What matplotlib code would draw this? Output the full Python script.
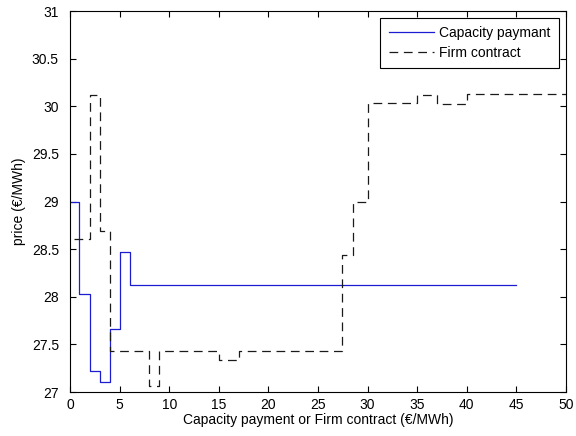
import numpy as np
import matplotlib
matplotlib.use('Agg')
import matplotlib.pyplot as plt

plt.rcParams['font.family'] = ['Liberation Sans', 'DejaVu Sans']
plt.rcParams['font.size'] = 10

# step breakpoints (x) and price levels (y), last level repeated for steps-post
cap_x = [0, 0.9, 2, 3, 4, 5, 6, 45]
cap_y = [29.0, 28.03, 27.22, 27.10, 27.66, 28.47, 28.12, 28.12]

firm_x = [0.4, 2, 3, 4, 8, 9, 15, 17, 27.4, 28.5, 30, 35, 37, 40, 50]
firm_y = [28.61, 30.12, 28.69, 27.43, 27.06, 27.43, 27.34, 27.43, 28.44, 29.0,
          30.03, 30.12, 30.02, 30.13, 30.13]

x_ticks = np.arange(0, 51, 5)
y_ticks = np.arange(27, 31.01, 0.5)

fig = plt.figure(figsize=(5.76, 4.36), dpi=100)
ax = fig.add_axes([70 / 576, 44 / 436, 496 / 576, 381 / 436])

ax.step(cap_x, cap_y, where='post', color='#1c1cd0', linewidth=0.9,
        label='Capacity paymant')
ax.step(firm_x, firm_y, where='post', color='#1a1a1a', linewidth=0.9,
        linestyle=(0, (7, 4.5)), label='Firm contract')

ax.set_xlim(0, 50)
ax.set_ylim(27, 31)
ax.set_xticks(x_ticks)
ax.set_yticks(y_ticks)
ax.set_yticklabels(['%g' % v for v in y_ticks])
ax.tick_params(direction='in', top=True, right=True, length=4, width=0.8)
ax.tick_params(axis='x', pad=4)
ax.tick_params(axis='y', pad=8)
for s in ax.spines.values():
    s.set_linewidth(0.8)

ax.set_xlabel('Capacity payment or Firm contract (€/MWh)', labelpad=1)
ax.set_ylabel('price (€/MWh)', labelpad=4)

leg = ax.legend(loc='upper right', fancybox=False, framealpha=1,
                edgecolor='black', borderaxespad=0.5, handlelength=3.3,
                handletextpad=0.35, borderpad=0.6, labelspacing=0.4)
leg.get_frame().set_linewidth(0.8)

plt.savefig('out.png', dpi=100)
